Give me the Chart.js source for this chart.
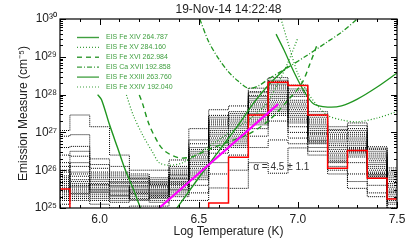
<!DOCTYPE html>
<html><head><meta charset="utf-8">
<script src="https://cdn.jsdelivr.net/npm/chart.js@4.4.1/dist/chart.umd.min.js"></script>
<style>html,body{margin:0;padding:0;background:#fff}</style>
</head><body>
<canvas id="c" width="415" height="247"></canvas>
<script>
// EM loci + DEM histograms, log T on x, log EM (cm^-5) on y

const titleText = '19-Nov-14 14:22:48';
const xTicks = [6.0, 6.5, 7.0, 7.5];
const yTicks = [25, 26, 27, 28, 29, 30];
const yTickLabels = ['10²⁵','10²⁶','10²⁷','10²⁸','10²⁹','10³⁰'];

// bin centres (0.1 dex)
const binT = [5.8,5.9,6.0,6.1,6.2,6.3,6.4,6.5,6.6,6.7,6.8,6.9,7.0,7.1,7.2,7.3,7.4,7.5];

// best DEM (red)
const redEM = [25.5,24.5,24.5,24.5,24.5,24.5,24.5,24.5,25.13,26.34,27.46,28.33,28.24,27.46,26.05,26.52,25.79,25.24];

// MC realisations (black dotted)
const demRuns = [
  [27.05,27.46,27.15,26.40,26.00,26.00,26.27,27.10,27.60,27.70,28.17,28.45,28.25,27.55,27.15,27.25,26.62,26.06],
  [26.90,26.94,26.30,26.10,25.90,25.80,26.10,26.80,27.45,27.55,28.05,28.35,28.15,27.45,27.05,27.10,26.55,25.95],
  [26.60,26.63,26.05,25.95,25.85,25.75,26.00,26.60,27.30,27.45,27.95,28.25,28.00,27.35,26.95,27.00,26.45,25.85],
  [26.40,26.37,25.95,25.85,25.75,25.65,25.90,26.45,27.20,27.30,27.85,28.15,27.85,27.25,26.85,26.90,26.35,25.75],
  [26.20,26.10,25.85,25.75,25.70,25.60,25.80,26.35,27.10,27.20,27.75,28.05,27.70,27.15,26.75,26.80,26.25,25.65],
  [26.00,25.84,25.75,25.65,25.60,25.55,25.75,26.25,27.00,27.10,27.65,27.95,27.60,27.05,26.65,26.70,26.15,25.55],
  [25.85,25.75,25.70,25.60,25.55,25.50,25.70,26.15,26.90,27.00,27.55,27.85,27.50,26.95,26.55,26.60,26.05,25.45],
  [25.75,25.65,25.60,25.55,25.50,25.45,25.65,26.05,26.80,26.90,27.45,27.75,27.40,26.90,26.45,26.55,25.95,25.40],
  [25.65,25.55,25.50,25.50,25.45,25.40,25.60,25.95,26.70,26.80,27.35,27.65,27.30,26.80,26.35,26.50,25.90,25.30],
  [25.55,25.45,25.45,25.40,25.40,25.35,25.55,25.85,26.60,26.70,27.25,27.55,27.15,26.75,26.25,26.40,25.85,25.20],
  [25.45,25.40,25.35,25.35,25.35,25.30,25.45,25.75,26.45,26.60,27.10,27.45,27.00,26.70,26.20,26.20,25.80,25.10],
  [25.35,25.30,25.30,25.25,25.30,25.25,25.40,25.60,26.20,26.40,26.90,27.30,26.85,26.60,26.10,25.90,25.60,25.00],
  [25.25,25.25,25.20,25.15,25.20,25.15,25.30,25.40,25.90,26.00,26.60,26.80,26.70,26.50,26.00,25.70,25.40,24.95],
  [25.10,25.20,25.10,25.00,25.05,25.05,25.20,25.20,25.53,25.52,26.20,25.92,26.59,26.40,25.90,25.52,25.30,24.90],
  [25.95,26.20,25.90,25.80,25.80,25.70,25.95,26.50,27.25,27.35,27.90,28.20,27.95,27.30,26.90,26.95,26.40,25.80],
  [25.70,25.95,25.65,25.70,25.65,25.58,25.85,26.40,27.15,27.25,27.80,28.10,27.80,27.20,26.80,26.85,26.30,25.70],
  [25.60,25.60,25.55,25.45,25.58,25.48,25.78,26.30,27.05,27.15,27.70,28.00,27.75,27.10,26.70,26.75,26.20,25.60],
  [25.50,25.50,25.40,25.30,25.48,25.42,25.68,26.20,26.95,27.05,27.60,27.90,27.65,27.00,26.60,26.65,26.10,25.50],
  [25.40,25.35,25.25,25.20,25.42,25.38,25.62,26.10,26.85,26.95,27.50,27.80,27.55,26.98,26.50,26.58,26.00,25.42],
  [25.30,25.70,25.48,25.45,25.25,25.33,25.50,26.00,26.75,26.85,27.40,27.70,27.45,26.85,26.40,26.48,25.92,25.35],
  [25.20,25.58,25.62,25.58,25.38,25.20,25.35,25.90,26.65,26.75,27.30,27.60,27.35,26.78,26.30,26.45,25.88,25.25],
  [26.10,25.38,25.80,25.68,25.68,25.62,25.88,26.55,27.35,27.40,27.98,28.28,28.05,27.40,27.00,27.05,26.50,25.90],
  [25.80,26.50,26.15,25.90,25.78,25.68,26.05,26.70,27.40,27.50,28.08,28.38,28.10,27.48,27.08,27.18,26.58,26.00],
  [25.45,25.90,25.42,25.33,25.22,25.28,25.48,25.80,26.55,26.65,27.20,27.50,27.25,26.72,26.22,26.35,25.83,25.15]
];

// power-law fit (magenta)
const fitT = [6.30, 6.90];
const fitEM = [25.0, 27.75];
const alphaText = 'α = 4.5 ± 1.1';

// EM loci curves (null = gap)
const feXIV_T  = [5.99,6.01,6.05,6.09,6.13,6.17,6.21,6.25,6.30,6.36,6.39,6.5,6.6,6.7,6.78,6.86,6.95];
const feXIV_EM = [28.0,27.86,27.2,26.6,26.0,25.5,24.95,24.5,null,24.8,25.0,25.8,26.5,27.2,27.8,28.3,28.75];
const feXV_T   = [6.135,6.17,6.22,6.27,6.3,6.35,6.42,6.5,6.6,6.7,6.78,6.84,6.9,6.95,7.0];
const feXV_EM  = [27.99,27.45,26.9,26.45,26.2,26.13,26.2,26.45,26.8,27.15,27.45,27.75,28.3,28.85,29.5];
const feXVI_T  = [6.2,6.216,6.25,6.3,6.33,6.37,6.41,6.47,6.55,6.65,6.75,6.85,6.95,7.02,7.06,7.1];
const feXVI_EM = [27.99,27.77,27.2,26.68,26.5,26.38,26.32,26.36,26.55,26.75,26.95,27.3,27.85,28.3,28.8,29.36];
const caXVII_T  = [6.505,6.55,6.6,6.65,6.7,6.75,6.8,6.86,6.95,7.05,7.15,7.22,7.3];
const caXVII_EM = [30.0,29.4,28.95,28.6,28.35,28.17,28.23,28.44,28.72,29.05,29.4,29.65,30.0];
const feXXIII_T  = [6.89,6.93,6.98,7.03,7.08,7.15,7.22,7.3,7.4,7.5];
const feXXIII_EM = [29.6,29.18,28.6,28.1,27.75,27.67,27.7,27.88,28.2,28.57];
const feXXIV_T  = [6.915,6.96,7.0,7.05,7.1,7.15,7.22,7.3,7.4,7.5];
const feXXIV_EM = [30.0,29.2,28.55,28.05,27.7,27.45,27.33,27.28,27.38,27.55];

const lociLabels = ['EIS Fe XIV 264.787','EIS Fe XV 284.160','EIS Fe XVI 262.984',
                    'EIS Ca XVII 192.858','EIS Fe XXIII 263.760','EIS Fe XXIV 192.040'];

const GREEN = '#1f951f';
const LEG_GREEN = '#3f9f3f';
const FONT = '"Liberation Sans", Arial, sans-serif';

const pts = (xs, ys) => xs.map((x,i)=>({x, y: ys[i]}));

const lociStyles = [
  {dash:[],        w:1.4},
  {dash:[1,2],     w:1.2},
  {dash:[5,4],     w:1.4},
  {dash:[5,2,1,2], w:1.3},
  {dash:[],        w:1.3},
  {dash:[1,2],     w:1.2}
];
const lociData = [
  pts(feXIV_T, feXIV_EM), pts(feXV_T, feXV_EM), pts(feXVI_T, feXVI_EM),
  pts(caXVII_T, caXVII_EM), pts(feXXIII_T, feXXIII_EM), pts(feXXIV_T, feXXIV_EM)
];

const datasets = [];
datasets.push({data: pts(fitT, fitEM), borderColor:'#ff00ff', borderWidth:2.2, pointRadius:0});
datasets.push({data: pts(binT, redEM), borderColor:'#ff0000', borderWidth:1.5, pointRadius:0, stepped:'middle'});
lociData.forEach((d,i)=>datasets.push({
  data:d, borderColor:GREEN, borderWidth:lociStyles[i].w, borderDash:lociStyles[i].dash,
  pointRadius:0, spanGaps:false, tension:0.3, isLoci:true, legendLabel:lociLabels[i]
}));
demRuns.forEach(r=>datasets.push({
  data: pts(binT, r), borderColor:'#000', borderWidth:1, borderDash:[1,1],
  pointRadius:0, stepped:'middle'
}));

// inward ticks on all 4 sides, frame, title, legend, alpha label
const decor = {
  id:'decor',
  afterDatasetsDraw(chart){
    const {ctx, chartArea:a, scales:{x,y}} = chart;
    ctx.save();
    ctx.strokeStyle='#000'; ctx.lineWidth=1.2; ctx.setLineDash([]);
    ctx.strokeRect(a.left, a.top, a.right-a.left, a.bottom-a.top);
    ctx.lineWidth=1;
    ctx.beginPath();
    for(let k=58;k<=75;k++){
      const v=k/10, px=Math.round(x.getPixelForValue(v))+0.5;
      const len = (k%5===0)?6:3;
      ctx.moveTo(px,a.bottom); ctx.lineTo(px,a.bottom-len);
      ctx.moveTo(px,a.top); ctx.lineTo(px,a.top+len);
    }
    for(let d=25; d<=30; d++){
      for(let m=1;m<=9;m++){
        const v=d+Math.log10(m); if(v>30) break;
        const py=Math.round(y.getPixelForValue(v))+0.5;
        const len = m===1?6:3;
        ctx.moveTo(a.left,py); ctx.lineTo(a.left+len,py);
        ctx.moveTo(a.right,py); ctx.lineTo(a.right-len,py);
      }
    }
    ctx.stroke();

    // title
    ctx.fillStyle='#222'; ctx.font='12px '+FONT;
    ctx.textAlign='center'; ctx.textBaseline='middle';
    ctx.fillText(titleText, (a.left+a.right)/2, 10);

    // alpha label
    ctx.font='10px '+FONT; ctx.fillStyle='#333'; ctx.textAlign='left';
    ctx.fillText(alphaText, x.getPixelForValue(6.775), y.getPixelForValue(26.08));

    // legend
    ctx.font='7px '+FONT;
    chart.data.datasets.filter(d=>d.isLoci).forEach((d,i)=>{
      const ly = a.top + 18.5 + i*9.9;
      ctx.strokeStyle=LEG_GREEN; ctx.lineWidth=d.borderWidth; ctx.setLineDash(d.borderDash);
      ctx.beginPath(); ctx.moveTo(a.left+17,ly); ctx.lineTo(a.left+39,ly); ctx.stroke();
      ctx.setLineDash([]);
      ctx.fillStyle=LEG_GREEN; ctx.fillText(d.legendLabel, a.left+46, ly);
    });
    ctx.restore();
  }
};

Chart.defaults.font.family = FONT;
new Chart(document.getElementById('c'), {
  type:'line',
  data:{datasets},
  plugins:[decor],
  options:{
    responsive:false, animation:false, parsing:true,
    layout:{padding:{top:19, right:18, left:0, bottom:0}},
    plugins:{legend:{display:false}, tooltip:{enabled:false}},
    scales:{
      x:{type:'linear', min:5.8, max:7.5,
         grid:{display:false, drawTicks:false}, border:{display:false},
         afterBuildTicks:s=>{s.ticks=xTicks.map(v=>({value:v}));},
         afterFit:s=>{s.height=39;},
         ticks:{padding:4, color:'#222', font:{size:12}, maxRotation:0, autoSkip:false,
                callback:v=>v.toFixed(1)},
         title:{display:true, text:'Log Temperature (K)', color:'#222', font:{size:12},
                padding:{top:0,bottom:8}}},
      y:{type:'linear', min:25, max:30,
         grid:{display:false, drawTicks:false}, border:{display:false},
         afterBuildTicks:s=>{s.ticks=yTicks.map(v=>({value:v}));},
         afterFit:s=>{s.width=60;},
         ticks:{padding:3, color:'#222', font:{size:12}, autoSkip:false,
                callback:v=>yTickLabels[yTicks.indexOf(v)]},
         title:{display:true, text:'Emission Measure (cm⁻⁵)', color:'#222', font:{size:12},
                padding:{top:16,bottom:0}}}
    }
  }
});
</script>
</body></html>
